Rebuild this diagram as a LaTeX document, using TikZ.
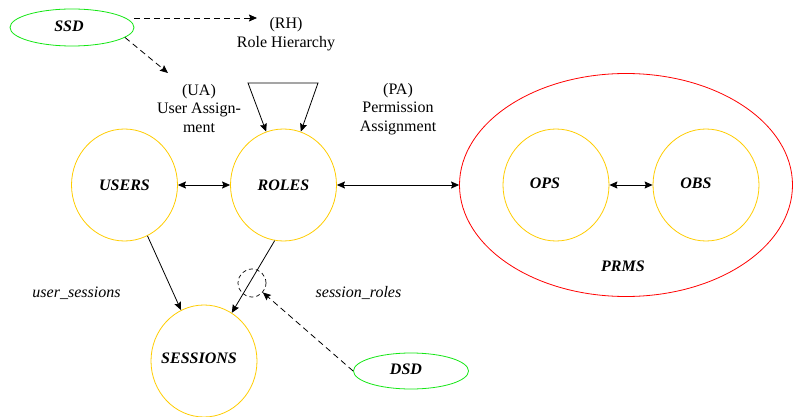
\documentclass[tikz,border=0pt]{standalone}
\usepackage{fontspec}
\setmainfont{Liberation Serif}
\usetikzlibrary{arrows.meta,shapes.geometric}
\definecolor{circgold}{RGB}{255,204,0}
\definecolor{ellgreen}{RGB}{20,230,20}
\definecolor{prmsred}{RGB}{255,0,0}
\begin{document}
\begin{tikzpicture}[x=1pt,y=-1pt,
  font=\fontsize{16}{18.5}\selectfont,
  >={Stealth[length=8pt,width=7pt,inset=1.2pt]},
  line width=0.8pt,
  entity/.style={ellipse,draw=circgold,inner sep=0pt,minimum width=106pt,minimum height=112pt,font=\fontsize{16}{18.5}\selectfont\bfseries\itshape},
  constraint/.style={ellipse,draw=ellgreen,inner sep=0pt,font=\fontsize{16}{18.5}\selectfont\bfseries\itshape},
  lbl/.style={align=center,inner sep=0pt},
  blbl/.style={inner sep=0pt,font=\fontsize{16}{18.5}\selectfont\bfseries\itshape},
  ilbl/.style={inner sep=0pt,font=\fontsize{16}{18.5}\selectfont\itshape},
  dashline/.style={dash pattern=on 6pt off 4pt},
  conn/.style={black,line width=0.8pt}
]
\useasboundingbox (0,0) rectangle (793,417);

% entities
\node[entity] (users) at (124.5,185) {USERS};
\node[entity] (roles) at (283.5,185) {ROLES};
\node[entity] (sessions) at (204,361) {};
\node[blbl] (sesslabel) at (199,358) {SESSIONS};
\node[ellipse,draw=prmsred,inner sep=0pt,minimum width=333pt,minimum height=223pt] (prms) at (626,185) {};
\node[blbl] (prmslabel) at (623,266) {PRMS};
\node[entity] (ops) at (556,185) {};
\node[blbl] (opslabel) at (545,183) {OPS};
\node[entity] (obs) at (706,185) {};
\node[blbl] (obslabel) at (696,183) {OBS};

% constraints
\node[constraint,minimum width=124pt,minimum height=37pt] (ssd) at (72,27.5) {};
\node[blbl] (ssdlabel) at (69,26) {SSD};
\node[constraint,minimum width=115pt,minimum height=36pt] (dsd) at (411,371) {};
\node[blbl] (dsdlabel) at (406,369) {DSD};
\node[circle,draw,dash pattern=on 4pt off 3pt,line width=0.7pt,inner sep=0pt,minimum size=28pt] (dc) at (252,283) {};

% text labels
\node[lbl] (rh) at (286,34) {(RH)\\Role Hierarchy};
\node[lbl] (ua) at (199,108.5) {(UA)\\User Assign-\\ment};
\node[lbl] (pa) at (398,109) {(PA)\\Permission\\Assignment};
\node[ilbl] (us) at (76.5,293) {user\_sessions};
\node[ilbl] (sr) at (358.5,293) {session\_roles};

% free ends
\coordinate (rhin) at (257,18);
\coordinate (uain) at (168,73);
\coordinate (ssdout) at (125,37.5);
\coordinate (ssdout2) at (134,18);
\coordinate (loopl) at (248,83);
\coordinate (loopr) at (318,83);

% connectors
\draw[conn,->,dashline] (ssdout2) -- (rhin);
\draw[conn,->,dashline] (ssdout) -- (uain);
\draw[conn,<->] (roles.108) -- (loopl) -- (loopr) -- (roles.72);
\draw[conn,<->] (users) -- (roles);
\draw[conn,<->] (roles.east) -- (prms.west);
\draw[conn,<->] (ops) -- (obs);
\draw[conn,->] (users) -- (sessions);
\draw[conn,->] (roles.-99) -- (sessions.60);
\draw[conn,->,dashline] (dsd.west) -- (dc);
\end{tikzpicture}
\end{document}
